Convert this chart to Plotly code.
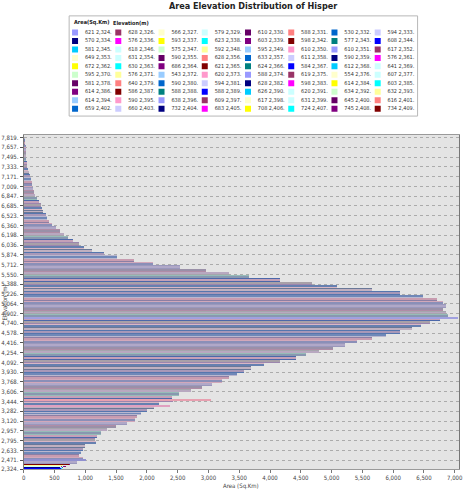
import plotly.graph_objects as go

W, H = 467, 501

title_text = "Area Elevation Distribution of Hisper"
x_title = "Area (Sq.Km)"
y_title = "Elevation (m)"
legend_header = ["Area(Sq.Km)", "Elevation(m)"]

# first 80 categories (shown in the legend): area and elevation
legend_area = [621, 628, 566, 579, 610, 588, 530, 594,
               570, 576, 593, 623, 603, 598, 577, 608,
               581, 618, 575, 592, 595, 610, 610, 617,
               649, 631, 590, 628, 633, 611, 590, 576,
               672, 630, 686, 621, 624, 584, 612, 641,
               595, 576, 543, 620, 588, 619, 554, 607,
               581, 640, 590, 594, 628, 598, 614, 603,
               614, 586, 588, 588, 626, 620, 634, 632,
               614, 590, 638, 609, 617, 631, 645, 616,
               659, 660, 732, 683, 708, 724, 745, 734]
legend_elev = [2324, 2326, 2327, 2329, 2330, 2331, 2332, 2333,
               2334, 2336, 2337, 2338, 2339, 2342, 2343, 2344,
               2345, 2346, 2347, 2348, 2349, 2350, 2351, 2352,
               2353, 2354, 2355, 2356, 2357, 2358, 2359, 2361,
               2362, 2363, 2364, 2365, 2366, 2367, 2368, 2369,
               2370, 2371, 2372, 2373, 2374, 2375, 2376, 2377,
               2378, 2379, 2380, 2381, 2382, 2383, 2384, 2385,
               2386, 2387, 2388, 2389, 2390, 2391, 2392, 2393,
               2394, 2395, 2396, 2397, 2398, 2399, 2400, 2401,
               2402, 2403, 2404, 2405, 2406, 2407, 2408, 2409]

# remaining elevation bands
main_elev = [2437, 2491, 2545, 2599, 2653, 2707, 2761, 2815, 2869, 2923,
             2977, 3031, 3085, 3139, 3193, 3247, 3301, 3355, 3409, 3463,
             3517, 3571, 3625, 3679, 3733, 3787, 3841, 3895, 3949, 4003,
             4057, 4111, 4165, 4219, 4273, 4327, 4381, 4435, 4489, 4543,
             4597, 4651, 4705, 4759, 4813, 4867, 4921, 4975, 5029, 5083,
             5137, 5191, 5245, 5299, 5353, 5407, 5461, 5515, 5569, 5623,
             5677, 5731, 5785, 5839, 5893, 5947, 6001, 6055, 6109, 6163,
             6217, 6271, 6325, 6379, 6433, 6487, 6541, 6595, 6649, 6703,
             6757, 6811, 6865, 6919, 6973, 7027, 7081, 7135, 7189, 7243,
             7297, 7351, 7405, 7459, 7513, 7567, 7621, 7675, 7729, 7783]
main_area = [860, 960, 900, 925, 950, 990, 1170, 1150, 1190, 1250,
             1340, 1500, 1680, 1810, 1840, 1900, 2000, 2110, 2200, 2420,
             2400, 2520, 2720, 2890, 3060, 3220, 3330, 3460, 3570, 3690,
             3900, 4160, 4410, 4580, 4790, 5020, 5220, 5400, 5650, 5880,
             6100, 6300, 6450, 6600, 6760, 6880, 6850, 6800, 6850, 6800,
             6700, 6480, 6100, 5650, 5080, 4680, 4150, 3660, 3330, 2960,
             2530, 2100, 1780, 1510, 1300, 1100, 980, 900, 790, 710,
             650, 590, 520, 455, 405, 380, 350, 315, 285, 270,
             240, 205, 175, 160, 145, 135, 125, 110, 100, 80,
             65, 55, 45, 38, 32, 27, 22, 20, 12, 8]

# isolated long single bars
spike_elev = [2477, 3370, 3469, 4831]
spike_area = [1005, 2370, 3040, 7050]

y_tick_vals = [2324, 2471, 2633, 2795, 2957, 3120, 3282, 3444, 3606, 3768,
               3930, 4092, 4254, 4416, 4578, 4740, 4902, 5064, 5226, 5388,
               5550, 5712, 5874, 6036, 6198, 6360, 6523, 6685, 6847, 7009,
               7171, 7333, 7495, 7657, 7819]
x_tick_vals = [0, 500, 1000, 1500, 2000, 2500, 3000, 3500, 4000, 4500,
               5000, 5500, 6000, 6500, 7000]

series_palette = ['#9999FF', '#993366', '#FFFFCC', '#CCFFFF', '#660066', '#FF8080',
                  '#0066CC', '#CCCCFF', '#000080', '#FF00FF', '#FFFF00', '#00FFFF',
                  '#800080', '#800000', '#008080', '#0000FF', '#00CCFF', '#CCFFFF',
                  '#CCFFCC', '#FFFF99', '#99CCFF', '#FF99CC']
band_palette = ['#9a98bc', '#d2a8ba', '#8c7ea4', '#b9b7cf', '#5676ae', '#6a7898',
                '#d8b6c4', '#9c86ae', '#4c68aa', '#96bcb8', '#a5a5ac', '#b08ca6']
band_palette2 = ['#b0a8c8', '#8a8fb8', '#c89cb0', '#7088b8', '#a898b8', '#c0b0c0',
                 '#6680b0', '#a8a0a8', '#c4a0b8', '#8898b0', '#b8a8c0', '#9a90a8']
spike_colors = ['#9090d0', '#e0a0c0', '#e8a0b0', '#a0a0e0']

FONT = "Liberation Sans Narrow, DejaVu Sans Condensed, Liberation Sans, Arial"

def px_x(p):
    return p / W

def px_y(p):
    return 1 - p / H

fig = go.Figure()

fig.add_trace(go.Bar(
    y=main_elev, x=main_area, orientation='h', width=54,
    marker=dict(color=[band_palette[i % len(band_palette)] for i in range(len(main_elev))],
                line=dict(width=0)),
    showlegend=False, hoverinfo='x+y'))

# thin inner stripe of the same bands (texture of the many thin categories)
fig.add_trace(go.Bar(
    y=main_elev, x=main_area, orientation='h', width=16,
    marker=dict(color=[band_palette2[i % len(band_palette2)] for i in range(len(main_elev))],
                line=dict(width=0)),
    showlegend=False, hoverinfo='skip'))

fig.add_trace(go.Bar(
    y=legend_elev, x=legend_area, orientation='h', width=1,
    marker=dict(color=[series_palette[i % len(series_palette)] for i in range(len(legend_elev))],
                line=dict(width=0)),
    showlegend=False, hoverinfo='x+y'))

fig.add_trace(go.Bar(
    y=spike_elev, x=spike_area, orientation='h', width=12,
    marker=dict(color=spike_colors, line=dict(width=0)),
    showlegend=False, hoverinfo='x+y'))

# ---- custom legend (8 columns x 10 rows) on helper axes ----
L_X0, L_X1, L_Y0, L_Y1 = 68, 421, 15, 116
ncol = 8
col_step, row_step = 43.8, 8.55
sw_x = [6 + (i % ncol) * col_step for i in range(len(legend_area))]
sw_y = [16.7 + (i // ncol) * row_step for i in range(len(legend_area))]
fig.add_trace(go.Scatter(
    x=sw_x, y=sw_y, mode='markers', xaxis='x2', yaxis='y2',
    marker=dict(symbol='square', size=6,
                color=[series_palette[i % len(series_palette)] for i in range(len(legend_area))],
                line=dict(width=0)),
    showlegend=False, hoverinfo='skip'))
fig.add_trace(go.Scatter(
    x=[v + 10 for v in sw_x], y=sw_y, mode='text', xaxis='x2', yaxis='y2',
    text=[f"{a} {e:,}." for a, e in zip(legend_area, legend_elev)],
    textposition='middle right',
    textfont=dict(family=FONT, size=5.5, color='#333333'),
    showlegend=False, hoverinfo='skip'))

fig.add_shape(type='rect', xref='paper', yref='paper',
              x0=px_x(L_X0), x1=px_x(L_X1), y0=px_y(L_Y1), y1=px_y(L_Y0),
              line=dict(color='#b8b8b8', width=1), fillcolor='white', layer='below')

ann = [
    dict(text=f"<b>{title_text}</b>", x=px_x(254), y=px_y(5.5), xref='paper', yref='paper',
         showarrow=False, font=dict(family=FONT, size=9, color='#222222'),
         xanchor='center', yanchor='middle'),
    dict(text=f"<b>{legend_header[0]}</b>", x=px_x(71), y=px_y(21.7), xref='paper', yref='paper',
         showarrow=False, font=dict(family=FONT, size=5.5, color='#222222'),
         xanchor='left', yanchor='middle'),
    dict(text=f"<b>{legend_header[1]}</b>", x=px_x(110), y=px_y(21.7), xref='paper', yref='paper',
         showarrow=False, font=dict(family=FONT, size=5.5, color='#222222'),
         xanchor='left', yanchor='middle'),
    dict(text=x_title, x=px_x(242), y=px_y(489), xref='paper', yref='paper',
         showarrow=False, font=dict(family=FONT, size=6, color='#444444'),
         xanchor='center', yanchor='middle'),
    dict(text=y_title, x=px_x(3), y=px_y(304), xref='paper', yref='paper', textangle=-90,
         showarrow=False, font=dict(family=FONT, size=6, color='#444444'),
         xanchor='center', yanchor='middle'),
]

fig.update_layout(
    width=W, height=H, margin=dict(l=0, r=0, t=0, b=0),
    paper_bgcolor='white', plot_bgcolor='#e4e4e4',
    barmode='overlay', bargap=0,
    annotations=ann,
    xaxis=dict(domain=[px_x(22), px_x(463)], range=[0, 7070],
               tickvals=x_tick_vals, ticktext=[f"{v:,}" for v in x_tick_vals],
               showgrid=False, zeroline=False,
               showline=True, linecolor='#9a9a9a', mirror=True,
               ticks='outside', ticklen=3, tickcolor='#777777',
               tickfont=dict(family=FONT, size=6, color='#444444')),
    yaxis=dict(domain=[px_y(472), px_y(135)], range=[2322, 7863],
               tickvals=y_tick_vals, ticktext=[f"{v:,}." for v in y_tick_vals],
               showgrid=True, gridcolor='#ababab', griddash='dot', gridwidth=1,
               zeroline=False,
               showline=True, linecolor='#777777', mirror=True,
               ticks='outside', ticklen=3, tickcolor='#555555',
               tickfont=dict(family=FONT, size=6, color='#444444')),
    xaxis2=dict(domain=[px_x(L_X0), px_x(L_X1)], range=[0, L_X1 - L_X0],
                visible=False, anchor='y2', fixedrange=True),
    yaxis2=dict(domain=[px_y(L_Y1), px_y(L_Y0)], range=[L_Y1 - L_Y0, 0],
                visible=False, anchor='x2', fixedrange=True),
)

fig.write_html("out.html")
